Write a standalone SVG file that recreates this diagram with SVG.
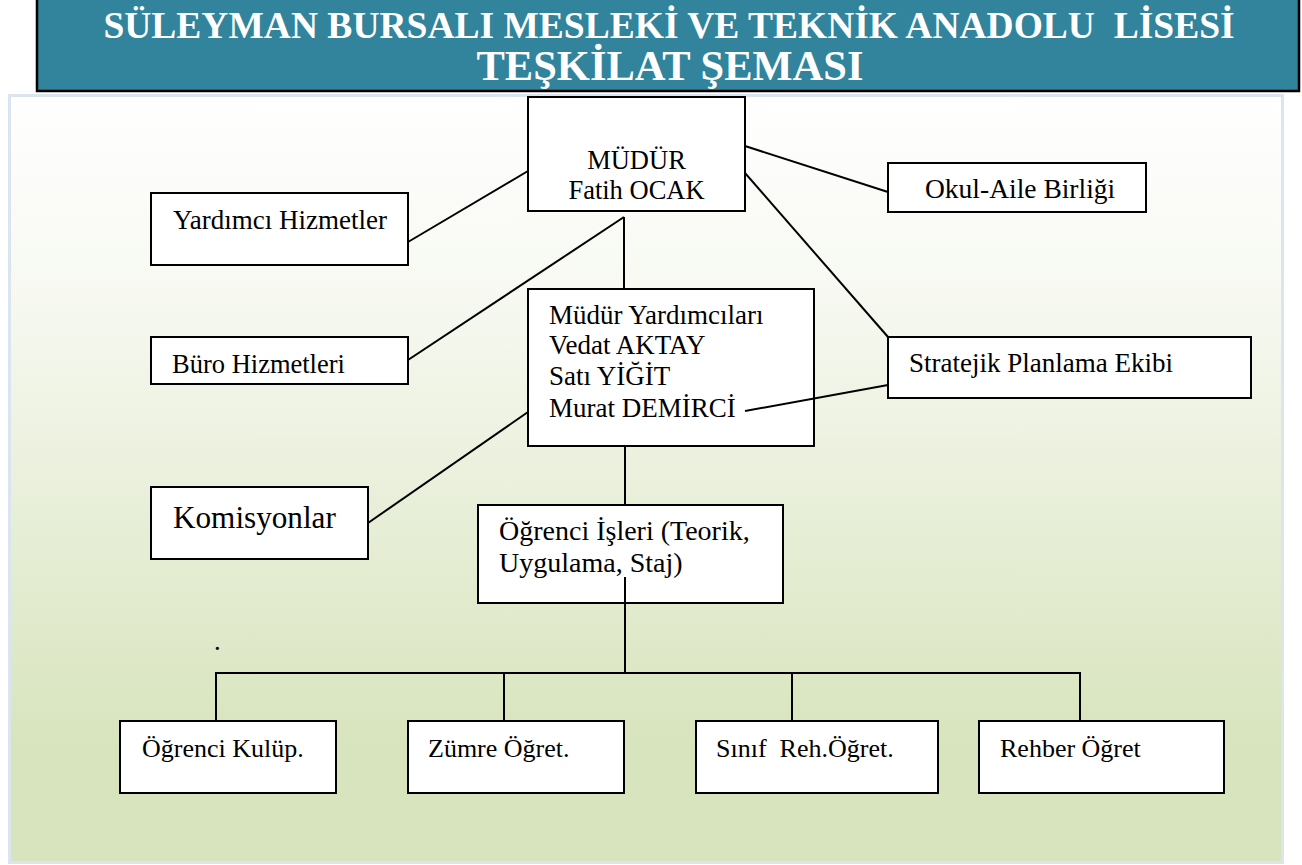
<svg xmlns="http://www.w3.org/2000/svg" width="1302" height="865" viewBox="0 0 1302 865">
<defs>
<linearGradient id="bg" x1="0" y1="0" x2="0" y2="1">
<stop offset="0" stop-color="#ffffff"/>
<stop offset="0.25" stop-color="#f7f9f2"/>
<stop offset="0.85" stop-color="#d8e4bd"/>
<stop offset="1" stop-color="#d7e4bd"/>
</linearGradient>
<style>
.box{fill:#ffffff;stroke:#000;stroke-width:2}
text{font-family:"Liberation Serif","DejaVu Serif",serif}
.t{font-size:26.5px;font-weight:normal;font-style:normal;fill:#000;white-space:pre}
.s{font-size:26px}
.c{text-anchor:middle}
.ln{stroke:#000;stroke-width:2;fill:none}
.title{font-weight:bold;font-size:37.5px;fill:#ffffff;text-anchor:middle;white-space:pre}
</style>
</defs>
<rect x="9.5" y="95.5" width="1273" height="767" fill="url(#bg)" stroke="#dbe5f1" stroke-width="3"/>
<g id="header">
<rect x="37" y="-3" width="1262" height="94" fill="#31849b" stroke="#000" stroke-width="2.5"/>
<text class="title" x="669" y="38">SÜLEYMAN BURSALI MESLEKİ VE TEKNİK ANADOLU  LİSESİ</text>
<text class="title" x="670" y="80" style="font-size:42.5px">TEŞKİLAT ŞEMASI</text>
</g>
<g id="mudur">
<rect class="box" x="528" y="97" width="217" height="114"/>
<text class="t c" x="636.5" y="169">MÜDÜR</text>
<text class="t c" x="636.5" y="199">Fatih OCAK</text>
</g>
<g id="yardimci-hizmetler">
<rect class="box" x="151" y="193" width="257" height="72"/>
<text class="t" x="173" y="229" style="font-size:27px">Yardımcı Hizmetler</text>
</g>
<g id="buro-hizmetleri">
<rect class="box" x="151" y="337" width="257" height="47"/>
<text class="t" x="172" y="373">Büro Hizmetleri</text>
</g>
<g id="komisyonlar">
<rect class="box" x="151" y="487" width="217" height="72"/>
<text class="t" x="173" y="528" style="font-size:31.2px">Komisyonlar</text>
</g>
<g id="mudur-yardimcilari">
<rect class="box" x="528" y="289" width="286" height="157"/>
<text class="t" x="549" y="324" style="font-size:27px">Müdür Yardımcıları</text>
<text class="t" x="549" y="354" style="font-size:27px">Vedat AKTAY</text>
<text class="t" x="549" y="385" style="font-size:27px">Satı YİĞİT</text>
<text class="t" x="549" y="417" style="font-size:27px">Murat DEMİRCİ</text>
</g>
<g id="okul-aile">
<rect class="box" x="888" y="163" width="258" height="49"/>
<text class="t" x="925" y="198" style="font-size:27.5px">Okul-Aile Birliği</text>
</g>
<g id="stratejik">
<rect class="box" x="888" y="337" width="363" height="61"/>
<text class="t" x="909" y="372" style="font-size:27px">Stratejik Planlama Ekibi</text>
</g>
<g id="ogrenci-isleri">
<rect class="box" x="478" y="505" width="305" height="98"/>
<text class="t" x="499" y="540" style="font-size:28px">Öğrenci İşleri (Teorik,</text>
<text class="t" x="499" y="572" style="font-size:28px">Uygulama, Staj)</text>
</g>
<text class="t" x="214" y="650">.</text>
<g id="ogrenci-kulup">
<rect class="box" x="120" y="721" width="216" height="72"/>
<text class="t s" x="142" y="757">Öğrenci Kulüp.</text>
</g>
<g id="zumre">
<rect class="box" x="408" y="721" width="216" height="72"/>
<text class="t s" x="428" y="757">Zümre Öğret.</text>
</g>
<g id="sinif-rehber">
<rect class="box" x="696" y="721" width="242" height="72"/>
<text class="t s" x="716" y="757">Sınıf  Reh.Öğret.</text>
</g>
<g id="rehber">
<rect class="box" x="979" y="721" width="245" height="72"/>
<text class="t s" x="1000" y="757">Rehber Öğret</text>
</g>
<g id="connectors">
<line class="ln" x1="408" y1="242" x2="528" y2="171"/>
<line class="ln" x1="408" y1="360" x2="624" y2="217"/>
<line class="ln" x1="624" y1="217" x2="624" y2="289"/>
<line class="ln" x1="368" y1="523" x2="528" y2="412"/>
<line class="ln" x1="745" y1="146" x2="888" y2="192"/>
<line class="ln" x1="745" y1="173" x2="888" y2="337"/>
<line class="ln" x1="745" y1="411" x2="888" y2="385"/>
<line class="ln" x1="625" y1="446" x2="625" y2="505"/>
<line class="ln" x1="625" y1="577" x2="625" y2="673"/>
<polyline class="ln" points="216,721 216,673 1080,673 1080,721"/>
<line class="ln" x1="504" y1="673" x2="504" y2="721"/>
<line class="ln" x1="792" y1="673" x2="792" y2="721"/>
</g>
</svg>
